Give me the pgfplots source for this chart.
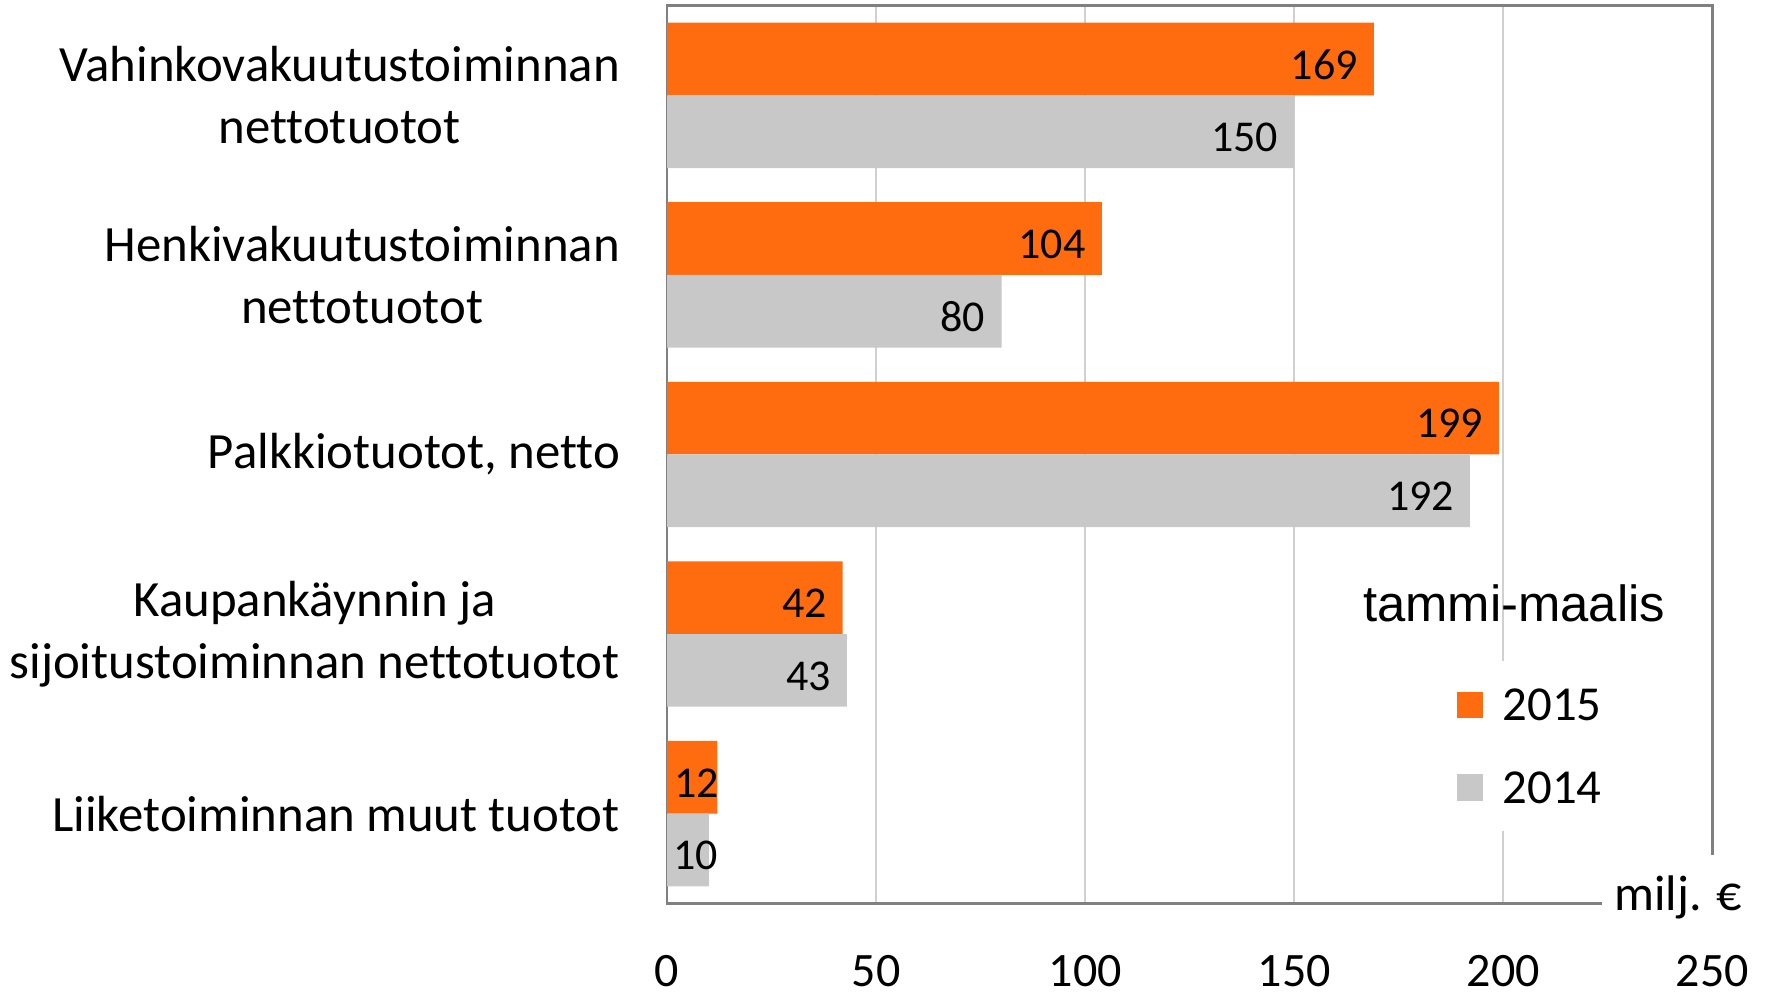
\documentclass[border=0pt]{standalone}
\usepackage{pgfplots}
\pgfplotsset{compat=1.18}
\usepackage{fontspec}
\setmainfont{Carlito}[Ligatures=NoCommon]
\newfontfamily\arialfont{Liberation Sans}
\definecolor{cOrange}{RGB}{255,108,16}
\definecolor{cGrey}{RGB}{200,200,200}
\definecolor{cFrame}{RGB}{128,128,128}
\definecolor{cGrid}{RGB}{208,208,208}

\pgfplotstableread{
y x dx
0 169 -3.8
1 104 -3.9
2 199 -3.8
3 42 -3.8
4 12 0.6
}\dataA
\pgfplotstableread{
y x dx
0 150 -3.9
1 80 -3.9
2 192 -3.8
3 43 -3.8
4 10 2.4
}\dataB

\begin{document}
\begin{tikzpicture}
\begin{axis}[
  scale only axis,
  width=261.3pt, height=224.4pt,
  xmin=0, xmax=250,
  ymin=-0.5, ymax=4.5,
  y dir=reverse,
  clip=false,
  /pgf/number format/assume math mode=true,
  xtick={0,50,100,150,200,250},
  ytick={0,1,2,3,4},
  yticklabels={{Vahinkovakuutustoiminnan\\nettotuotot},{Henkivakuutustoiminnan\\nettotuotot},{Palkkiotuotot, netto},{Kaupankäynnin ja\\sijoitustoiminnan nettotuotot},{Liiketoiminnan muut tuotot}},
  yticklabel style={align=center, inner sep=0pt, xshift=-11.6pt, font=\fontsize{12.7}{15.5}\selectfont},
  xticklabel style={inner sep=0pt, yshift=-12.7pt, font=\fontsize{12}{14}\selectfont},
  major tick length=0pt,
  xmajorgrids,
  grid style={draw=cGrid, line width=0.45pt},
  axis line style={draw=cFrame, line width=0.6pt},
  legend style={at={(axis cs:182,3.148)}, anchor=north west, draw=none, fill=white,
    inner xsep=7pt, inner ysep=7pt, row sep=12.7pt,
    font=\fontsize{12.2}{14}\selectfont,
    nodes={inner sep=0pt, text height=7.9pt, text depth=0pt},
    /tikz/every odd column/.append style={column sep=4.8pt}},
  legend cell align=left,
  legend image code/.code={\fill[#1] (0pt,-3.3pt) rectangle (6.6pt,3.3pt);},
]
\addplot[xbar, bar width=0.405, bar shift=-0.2025, fill=cOrange, draw=none,
  nodes near coords, point meta=x,
  visualization depends on={\thisrow{dx} \as \dx},
  every node near coord/.append style={anchor=east, xshift=\dx pt, yshift=7.7pt, inner sep=0pt, text=black, font=\fontsize{11}{13}\selectfont}]
  table[x=x, y=y] {\dataA};
\addlegendentry{2015}
\addplot[xbar, bar width=0.405, bar shift=0.2025, fill=cGrey, draw=none,
  nodes near coords, point meta=x,
  visualization depends on={\thisrow{dx} \as \dx},
  every node near coord/.append style={anchor=east, xshift=\dx pt, yshift=-10.5pt, inner sep=0pt, text=black, font=\fontsize{11}{13}\selectfont}]
  table[x=x, y=y] {\dataB};
\addlegendentry{2014}
\node[anchor=base, inner sep=0pt, font=\arialfont\fontsize{12.7}{15}\selectfont] at (axis cs:202.6,2.928) {tammi-maalis};
\node[anchor=base west, fill=white, inner xsep=3pt, inner ysep=5pt, font=\fontsize{12.5}{15}\selectfont] at (axis cs:223.5,4.538) {milj. €};
\path (axis cs:-159.56,-0.5314) rectangle (axis cs:263.77,5.0094);
\end{axis}
\end{tikzpicture}
\end{document}
